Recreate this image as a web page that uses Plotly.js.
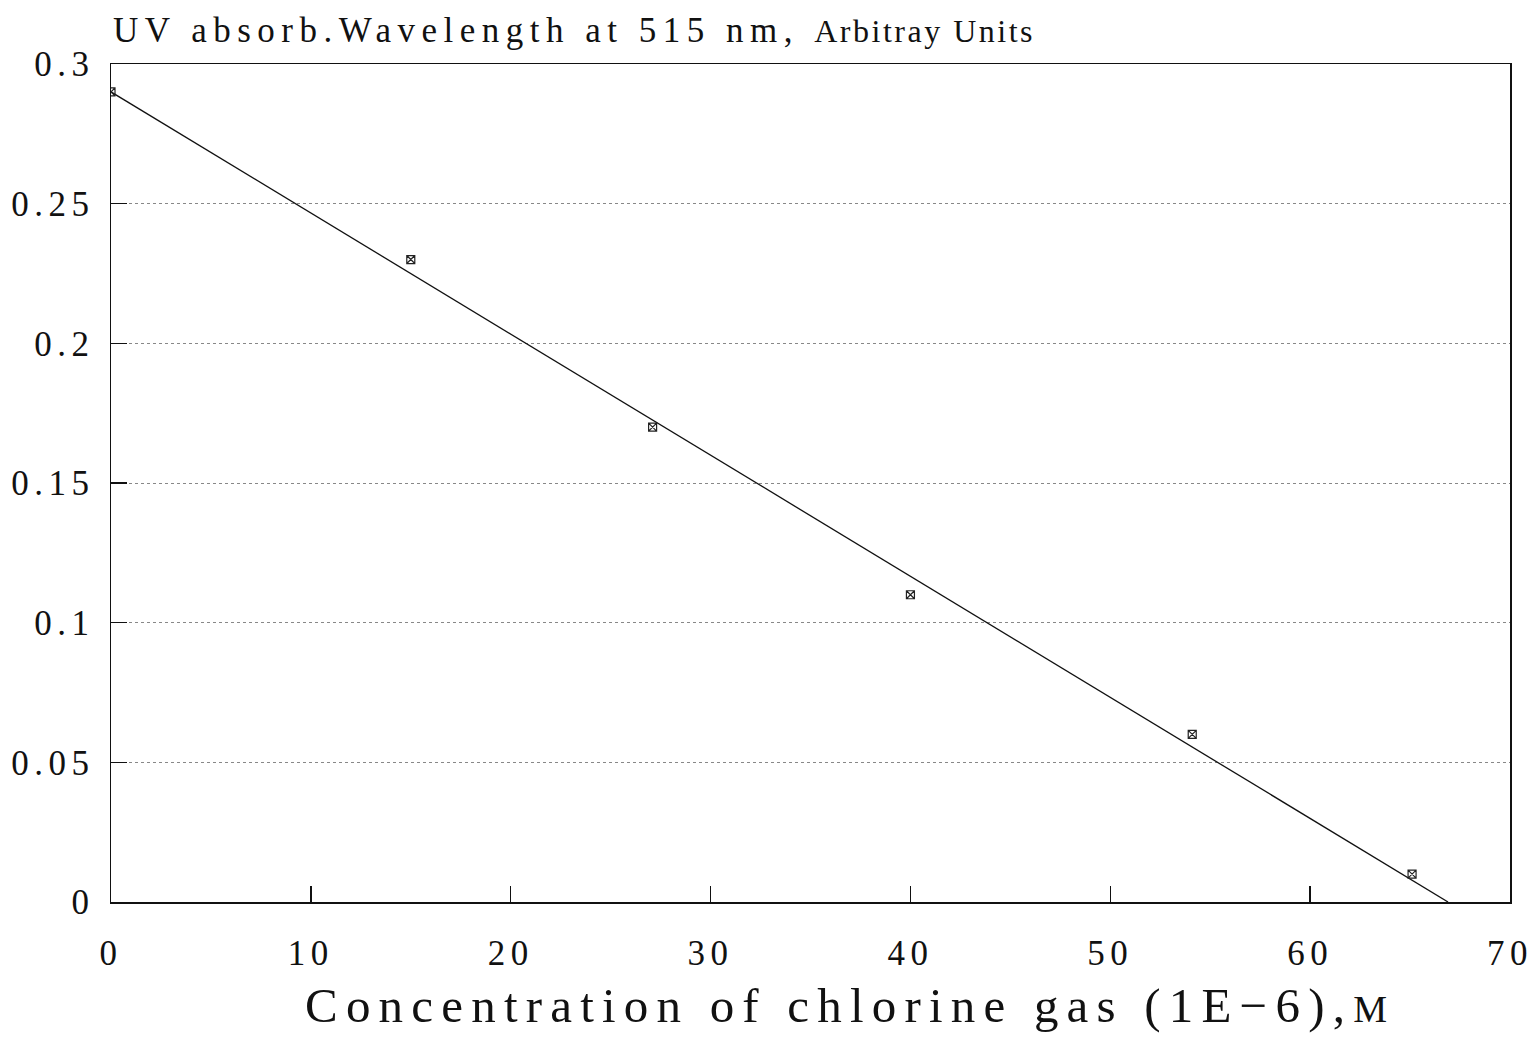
<!DOCTYPE html>
<html>
<head>
<meta charset="utf-8">
<script src="https://cdn.plot.ly/plotly-3.0.1.min.js"></script>
<style>
html,body{margin:0;padding:0;background:#fff;}
#chart{width:1539px;height:1037px;}
#chart .xtick text, #chart .ytick text{letter-spacing:5.5px;}
</style>
</head>
<body>
<div id="chart"></div>
<script>
// Measured data (concentration of chlorine gas, 1E-6 M) vs absorbance at 515 nm
const concentration = [0, 15, 27.1, 40, 54.1, 65.1];
const absorbance = [0.29, 0.23, 0.17, 0.11, 0.06, 0.01];
// Fitted straight line end points as drawn
const fitX = [0, 66.9];
const fitY = [0.29, 0];
const xTickVals = [0, 10, 20, 30, 40, 50, 60, 70];
const yTickVals = [0, 0.05, 0.1, 0.15, 0.2, 0.25, 0.3];

const serif = 'Liberation Serif, Times New Roman, serif';
const tickFont = {family: serif, size: 35, color: '#111'};

const traces = [
  {
    x: fitX, y: fitY, type: 'scatter', mode: 'lines',
    line: {color: '#111', width: 1.3}, hoverinfo: 'skip', showlegend: false
  },
  {
    x: concentration, y: absorbance, type: 'scatter', mode: 'markers',
    marker: {symbol: 'square-x-open', size: 8, color: '#222', line: {width: 1.2, color: '#222'}},
    showlegend: false
  }
];

const layout = {
  width: 1539, height: 1037,
  paper_bgcolor: '#fff', plot_bgcolor: '#fff',
  margin: {l: 111, r: 29, t: 64, b: 135, pad: 0},
  showlegend: false,
  title: {
    text: '<span style="letter-spacing:6.5px">UV absorb.Wavelength at 515 nm, </span><span style="font-size:32px;letter-spacing:2.5px">Arbitray Units</span>',
    font: {family: serif, size: 35, color: '#111'},
    xref: 'container', yref: 'container',
    x: 113 / 1539, xanchor: 'left',
    y: 1 - 30 / 1037, yanchor: 'middle'
  },
  xaxis: {
    range: [0, 70], tickvals: xTickVals, ticktext: xTickVals.map(String),
    ticks: 'inside', ticklen: 16, tickwidth: 1.5, tickcolor: '#111',
    showline: true, linecolor: '#111', linewidth: 1.5, mirror: true,
    showgrid: false, zeroline: false,
    tickfont: tickFont, ticklabelstandoff: 19
  },
  yaxis: {
    range: [0, 0.3], tickvals: yTickVals, ticktext: yTickVals.map(String),
    ticks: 'inside', ticklen: 16, tickwidth: 1.5, tickcolor: '#111',
    showline: true, linecolor: '#111', linewidth: 1.5, mirror: true,
    showgrid: true, gridcolor: '#888', gridwidth: 1, griddash: 'dot',
    zeroline: false,
    tickfont: tickFont, ticklabelstandoff: 8
  },
  annotations: [
    {
      text: '<span style="letter-spacing:8.2px">Concentration of chlorine gas (1E\u22126),<span style="font-size:38px">M</span></span>',
      xref: 'paper', yref: 'paper',
      x: (850 - 111) / 1399, xanchor: 'center',
      y: -(1006 - 902) / 838, yanchor: 'middle',
      showarrow: false,
      font: {family: serif, size: 49, color: '#111'}
    }
  ]
};

Plotly.newPlot('chart', traces, layout, {displayModeBar: false, staticPlot: true});
</script>
</body>
</html>
